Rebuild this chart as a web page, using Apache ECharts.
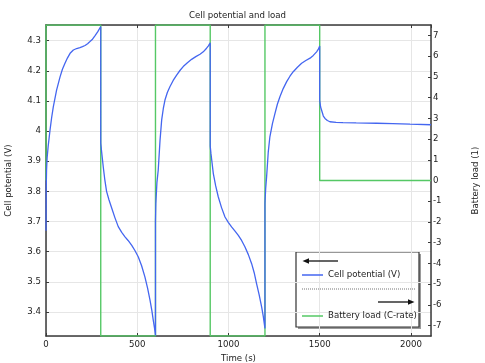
<!DOCTYPE html>
<html><head><meta charset="utf-8">
<script src="https://cdn.jsdelivr.net/npm/echarts@6/dist/echarts.min.js"></script>
<style>html,body{margin:0;padding:0;background:#fff}#c{width:485px;height:363px}</style>
</head><body><div id="c"></div>
<script>
// Cell potential (V) vs time (s)
var timeV = [0,1,3,6,12,22,31,40,58,77,90,104,118,132,150,168,186,200,214,228,241,255,268,284,300,
  300,305,314,322,332,345,360,378,396,415,433,450,470,488,506,524,542,557,570,580,588,595,600,
  600,602,608,615,625,634,643,652,665,679,697,716,734,752,775,798,821,844,862,880,890,900,
  900,904,910,917,930,944,962,981,999,1017,1036,1054,1072,1090,1109,1127,1141,1154,1168,1182,1191,1200,
  1200,1204,1209,1218,1227,1241,1255,1268,1282,1300,1319,1337,1355,1378,1401,1424,1447,1465,1483,1492,1500,
  1500,1505,1510,1520,1529,1542,1556,1590,1627,1700,1812,1900,1995,2110];
var voltage = [3.669,3.80,3.87,3.91,3.95,4.003,4.045,4.08,4.136,4.18,4.205,4.225,4.243,4.258,4.269,4.274,4.277,4.280,4.284,4.290,4.297,4.305,4.316,4.330,4.347,
  3.96,3.93,3.88,3.84,3.80,3.772,3.745,3.712,3.683,3.664,3.649,3.637,3.621,3.603,3.582,3.553,3.516,3.478,3.439,3.405,3.372,3.345,3.322,
  3.70,3.76,3.83,3.87,3.97,4.037,4.075,4.103,4.128,4.147,4.168,4.186,4.201,4.214,4.227,4.238,4.247,4.255,4.263,4.275,4.283,4.293,
  3.95,3.926,3.895,3.859,3.818,3.782,3.746,3.715,3.697,3.682,3.668,3.654,3.637,3.616,3.590,3.560,3.530,3.494,3.457,3.416,3.384,3.345,
  3.76,3.81,3.848,3.93,3.981,4.025,4.059,4.089,4.114,4.141,4.164,4.182,4.197,4.212,4.225,4.234,4.242,4.251,4.263,4.271,4.282,
  4.103,4.08,4.07,4.05,4.042,4.035,4.031,4.029,4.028,4.027,4.026,4.025,4.023,4.021];
// Battery load (C-rate) vs time (s)
var timeLoad = [0,0,300,300,600,600,900,900,1200,1200,1500,1500,2110];
var load = [0,7.5,7.5,-7.5,-7.5,7.5,7.5,-7.5,-7.5,7.5,7.5,0,0];
var xTicks = [0,500,1000,1500,2000];
var titleText = 'Cell potential and load';
var seriesNames = ['Cell potential (V)','Battery load (C-rate)'];

var vData = timeV.map(function(t,i){return [t,voltage[i]];});
var lData = timeLoad.map(function(t,i){return [t,load[i]];});

var FONT = 'DejaVu Sans';
var FS = 8.6;
var axisLineStyle = {color:'#3a3a3a', width:1.5};
var chart = echarts.init(document.getElementById('c'), null, {renderer:'canvas'});
chart.setOption({
  animation:false,
  textStyle:{fontFamily:FONT},
  title:{text:titleText, left:184, top:6, textStyle:{fontFamily:FONT,fontSize:FS,fontWeight:'normal',color:'#222'}},
  grid:{left:46,right:54,top:25,bottom:27,containLabel:false,outerBoundsMode:'none'},
  xAxis:[{
    type:'value', min:0, max:2110, interval:500, position:'bottom',
    name:'Time (s)', nameLocation:'middle', nameGap:14,
    nameTextStyle:{fontFamily:FONT,fontSize:FS,color:'#222'},
    axisLine:{show:true,onZero:false,lineStyle:axisLineStyle},
    axisTick:{show:true,inside:true,length:3,lineStyle:{color:'#3a3a3a'}},
    axisLabel:{fontFamily:FONT,fontSize:FS,color:'#222',margin:4,showMaxLabel:false,
      formatter:function(v){return xTicks.indexOf(v)>=0?String(v):'';}},
    splitLine:{show:true,lineStyle:{color:'#e6e6e6',width:1}}
  },{
    type:'value', min:0, max:2110, interval:500, position:'top',
    axisLine:{show:true,onZero:false,lineStyle:axisLineStyle},
    axisTick:{show:true,inside:true,length:3,lineStyle:{color:'#3a3a3a'}},
    axisLabel:{show:false}, splitLine:{show:false}
  }],
  yAxis:[{
    type:'value', min:3.32, max:4.352, splitNumber:10, position:'left',
    name:'Cell potential (V)', nameLocation:'middle', nameGap:33, nameRotate:90,
    nameTextStyle:{fontFamily:FONT,fontSize:FS,color:'#222'},
    axisLine:{show:true,onZero:false,lineStyle:axisLineStyle},
    axisTick:{show:true,inside:true,length:3,lineStyle:{color:'#3a3a3a'}},
    axisLabel:{fontFamily:FONT,fontSize:FS,color:'#222',margin:5,showMinLabel:false,showMaxLabel:false,
      formatter:function(v){return String(Math.round(v*10)/10);}},
    splitLine:{show:true,lineStyle:{color:'#e6e6e6',width:1}}
  },{
    type:'value', min:-7.5, max:7.5, splitNumber:15, position:'right',
    name:'Battery load (1)', nameLocation:'middle', nameGap:40, nameRotate:90,
    nameTextStyle:{fontFamily:FONT,fontSize:FS,color:'#222'},
    axisLine:{show:true,onZero:false,lineStyle:axisLineStyle},
    axisTick:{show:true,inside:true,length:3,lineStyle:{color:'#3a3a3a'}},
    axisLabel:{fontFamily:FONT,fontSize:FS,color:'#222',margin:2,showMinLabel:false,showMaxLabel:false},
    splitLine:{show:false}
  }],
  legend:[{
    data:[{name:seriesNames[0],icon:'rect'}], left:302, top:269, padding:0,
    itemWidth:21, itemHeight:1.5, itemGap:0, selectedMode:false,
    textStyle:{fontFamily:FONT,fontSize:FS,color:'#222',lineHeight:12}
  },{
    data:[{name:seriesNames[1],icon:'rect'}], left:302, top:310, padding:0,
    itemWidth:21, itemHeight:1.5, itemGap:0, selectedMode:false,
    textStyle:{fontFamily:FONT,fontSize:FS,color:'#222',lineHeight:12}
  }],
  graphic:[
    {type:'rect', shape:{x:298,y:254,width:123,height:75}, style:{fill:'#9a9a9a'}, z:-1},
    {type:'rect', shape:{x:296,y:252,width:123,height:75}, style:{fill:'#fff',stroke:'#333',lineWidth:1.2}, z:0},
    {type:'line', shape:{x1:307,y1:261,x2:338,y2:261}, style:{stroke:'#111',lineWidth:1.3}, z:1},
    {type:'polygon', shape:{points:[[302.5,261],[309,258.3],[309,263.7]]}, style:{fill:'#111'}, z:1},
    {type:'line', shape:{x1:302,y1:289,x2:415,y2:289}, style:{stroke:'#777',lineWidth:1,lineDash:[1,1]}, z:1},
    {type:'line', shape:{x1:378,y1:302,x2:410,y2:302}, style:{stroke:'#111',lineWidth:1.3}, z:1},
    {type:'polygon', shape:{points:[[414.5,302],[408,299.3],[408,304.7]]}, style:{fill:'#111'}, z:1}
  ],
  series:[{
    name:seriesNames[1], type:'line', xAxisIndex:0, yAxisIndex:1, data:lData,
    symbol:'none', showSymbol:false, lineStyle:{color:'#55c865',width:1.4}, itemStyle:{color:'#55c865'}, z:2
  },{
    name:seriesNames[0], type:'line', xAxisIndex:0, yAxisIndex:0, data:vData,
    symbol:'none', showSymbol:false, smooth:false, lineStyle:{color:'#4466f0',width:1.3}, itemStyle:{color:'#4466f0'}, z:3
  }]
});
</script></body></html>
